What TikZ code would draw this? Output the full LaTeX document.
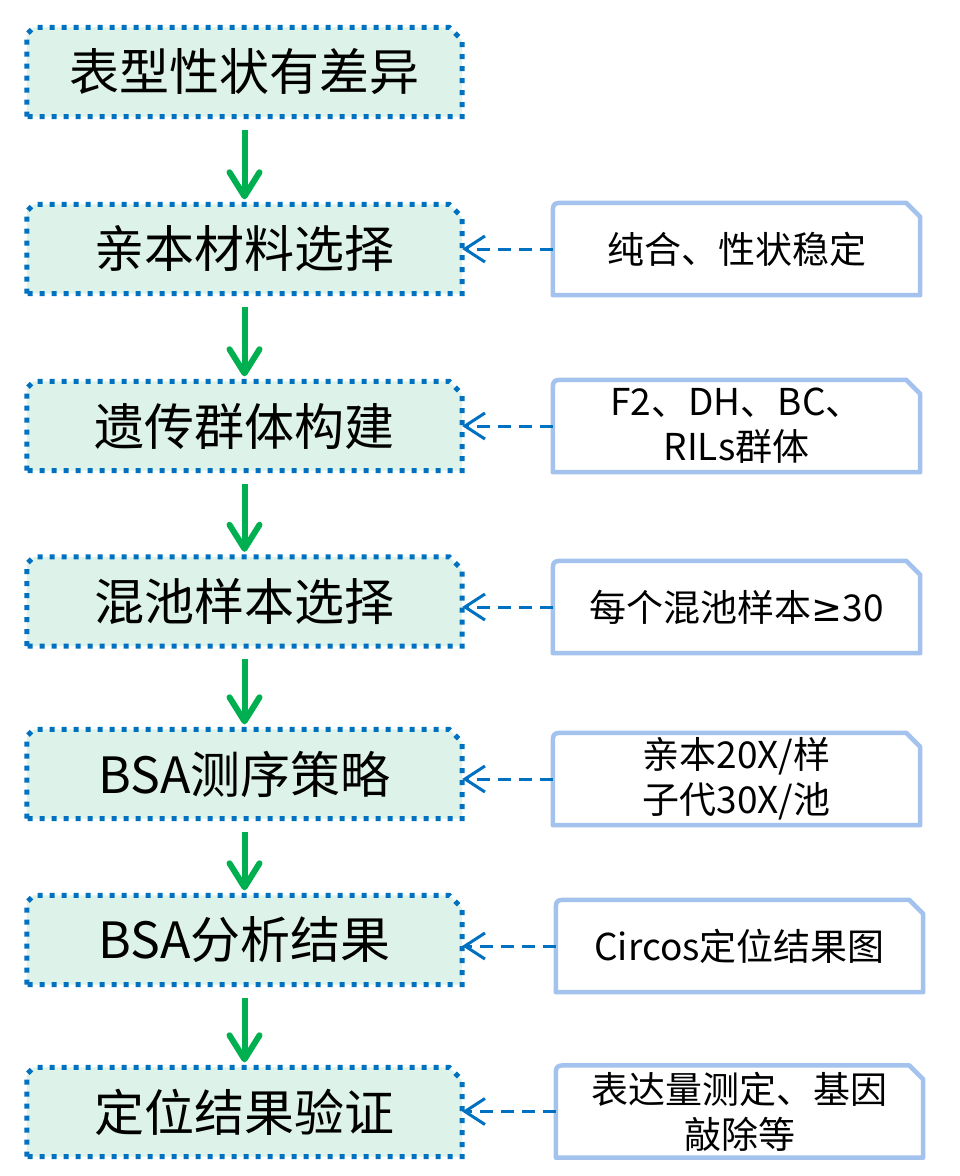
\documentclass[tikz,border=0pt]{standalone}
\usepackage{fontspec}
\setmainfont{Noto Sans CJK SC}
\newfontfamily\symfont{DejaVu Sans}
\usetikzlibrary{arrows.meta,backgrounds}
\definecolor{mint}{HTML}{DDF3E9}
\definecolor{dotblue}{HTML}{0070C0}
\definecolor{noteblue}{HTML}{A4C2EE}
\definecolor{arrgreen}{HTML}{00B050}
\begin{document}
\begin{tikzpicture}[x=1pt,y=-1pt,
  stepbox/.style={minimum width=435pt, minimum height=89pt, inner sep=0pt, font=\fontsize{50}{56}\selectfont},
  notebox/.style={minimum width=367pt, minimum height=92pt, inner sep=0pt, align=center, font=\fontsize{37}{45}\selectfont},
  stepline/.style={fill=mint, draw=dotblue, line width=5pt, dash pattern=on 5pt off 7pt},
  noteline/.style={fill=white, draw=noteblue, line width=4.5pt, line join=round},
  flow/.style={draw=arrgreen, line width=6pt, -{Straight Barb[length=24pt,width=30pt,round]}},
  hint/.style={draw=dotblue, line width=3pt, dash pattern=on 13pt off 8pt, -{Straight Barb[length=20pt,width=26pt]}}
]
\useasboundingbox (0,0) rectangle (960,1176);

\node[stepbox] (b1) at (244.5,72) {表型性状有差异};
\node[stepbox] (b2) at (244.5,249) {亲本材料选择};
\node[stepbox] (b3) at (244.5,426) {遗传群体构建};
\node[stepbox] (b4) at (244.5,601.5) {混池样本选择};
\node[stepbox] (b5) at (244.5,774) {BSA测序策略};
\node[stepbox] (b6) at (244.5,940) {BSA分析结果};
\node[stepbox] (b7) at (244.5,1112) {定位结果验证};

\node[notebox] (n1) at (736.5,249) {纯合、性状稳定};
\node[notebox] (n2) at (736.5,426) {F2、DH、BC、\\RILs群体};
\node[notebox] (n3) at (736.5,607) {每个混池样本{\symfont ≥}30};
\node[notebox] (n4) at (736.5,779) {亲本20X/样\\子代30X/池};
\node[notebox] (n6) at (739.5,946) {Circos定位结果图};
\node[notebox] (n7) at (739.5,1111.5) {表达量测定、基因\\敲除等};

\begin{scope}[on background layer]
\foreach \b in {b1,b2,b3,b4,b5,b6,b7}{
  \path[stepline] (\b.south west) -- ([yshift=-7pt]\b.north west) -- ([xshift=7pt]\b.north west)
    -- ([xshift=-13pt]\b.north east) -- ([yshift=-13pt]\b.north east) -- (\b.south east) -- cycle;
}
\foreach \n in {n1,n2,n3,n4,n6,n7}{
  \path[noteline] (\n.south west) -- ([yshift=-13pt]\n.north west)
    .. controls (\n.north west) .. ([xshift=13pt]\n.north west)
    -- ([xshift=-14pt]\n.north east) -- ([yshift=-14pt]\n.north east) -- (\n.south east) -- cycle;
}
\end{scope}

\draw[flow] ([yshift=-13pt]b1.south) -- ([yshift=5pt]b2.north);
\draw[flow] ([yshift=-13pt]b2.south) -- ([yshift=5pt]b3.north);
\draw[flow] ([yshift=-13pt]b3.south) -- ([yshift=5pt]b4.north);
\draw[flow] ([yshift=-13pt]b4.south) -- ([yshift=5pt]b5.north);
\draw[flow] ([yshift=-13pt]b5.south) -- ([yshift=5pt]b6.north);
\draw[flow] ([yshift=-13pt]b6.south) -- ([yshift=5pt]b7.north);

\draw[hint] (n1.west) -- (n1.west -| b2.east);
\draw[hint] (n2.west) -- (n2.west -| b3.east);
\draw[hint] (n3.west) -- (n3.west -| b4.east);
\draw[hint] (n4.west) -- (n4.west -| b5.east);
\draw[hint] (n6.west) -- (n6.west -| b6.east);
\draw[hint] (n7.west) -- (n7.west -| b7.east);
\end{tikzpicture}
\end{document}
